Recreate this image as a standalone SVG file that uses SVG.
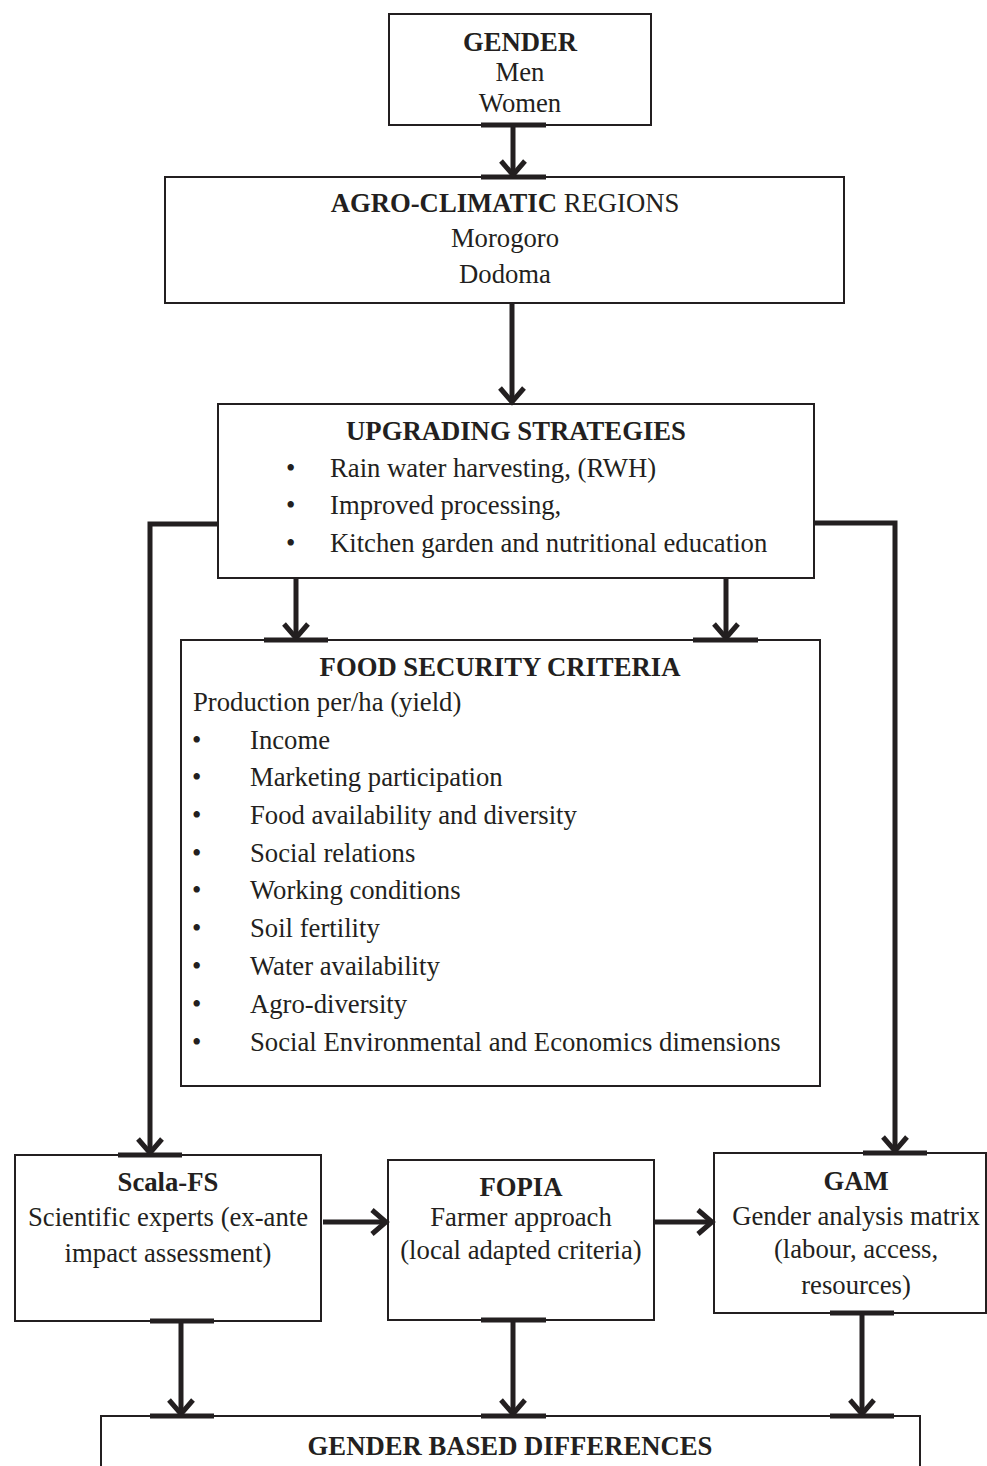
<svg xmlns="http://www.w3.org/2000/svg" width="987" height="1466" viewBox="0 0 987 1466">
<style>
.box{fill:#fff;stroke:#231f20;stroke-width:2}
text{font-family:"Liberation Serif","Times New Roman",serif;font-size:26.7px;fill:#231f20}
.b{font-weight:bold}
.c{text-anchor:middle}
.con{fill:none;stroke:#231f20;stroke-width:5;stroke-linejoin:miter}
.tab{stroke:#231f20;stroke-width:5}
</style>
<defs>
<marker id="ah" markerUnits="userSpaceOnUse" viewBox="-20 -15 25 30" markerWidth="25" markerHeight="30" refX="0" refY="0" orient="auto">
<path d="M-14,-12 L0,0 L-14,12" fill="none" stroke="#231f20" stroke-width="5"/>
</marker>
</defs>
<rect width="987" height="1466" fill="#fff"/>

<g id="gender">
<rect class="box" x="389" y="14" width="262" height="111"/>
<text class="c b" x="520" y="51">GENDER</text>
<text class="c" x="520" y="81">Men</text>
<text class="c" x="520" y="112">Women</text>
</g>

<g id="agro">
<rect class="box" x="165" y="177" width="679" height="126"/>
<text class="c" x="505" y="212"><tspan class="b">AGRO-CLIMATIC</tspan> REGIONS</text>
<text class="c" x="505" y="247">Morogoro</text>
<text class="c" x="505" y="283">Dodoma</text>
</g>

<g id="upgrading">
<rect class="box" x="218" y="404" width="596" height="174"/>
<text class="c b" x="516" y="440">UPGRADING STRATEGIES</text>
<text x="286" y="477">•</text><text x="330" y="477">Rain water harvesting, (RWH)</text>
<text x="286" y="514">•</text><text x="330" y="514">Improved processing,</text>
<text x="286" y="552">•</text><text x="330" y="552">Kitchen garden and nutritional education</text>
</g>

<g id="food">
<rect class="box" x="181" y="640" width="639" height="446"/>
<text class="c b" x="500" y="676">FOOD SECURITY CRITERIA</text>
<text x="193" y="711">Production per/ha (yield)</text>
<text x="192" y="749">•</text><text x="250" y="749">Income</text>
<text x="192" y="786">•</text><text x="250" y="786">Marketing participation</text>
<text x="192" y="824">•</text><text x="250" y="824">Food availability and diversity</text>
<text x="192" y="862">•</text><text x="250" y="862">Social relations</text>
<text x="192" y="899">•</text><text x="250" y="899">Working conditions</text>
<text x="192" y="937">•</text><text x="250" y="937">Soil fertility</text>
<text x="192" y="975">•</text><text x="250" y="975">Water availability</text>
<text x="192" y="1013">•</text><text x="250" y="1013">Agro-diversity</text>
<text x="192" y="1051">•</text><text x="250" y="1051">Social Environmental and Economics dimensions</text>
</g>

<g id="scala">
<rect class="box" x="15" y="1155" width="306" height="166"/>
<text class="c b" x="168" y="1191">Scala-FS</text>
<text class="c" x="168" y="1226">Scientific experts (ex-ante</text>
<text class="c" x="168" y="1262">impact assessment)</text>
</g>

<g id="fopia">
<rect class="box" x="388" y="1160" width="266" height="160"/>
<text class="c b" x="521" y="1196">FOPIA</text>
<text class="c" x="521" y="1226">Farmer approach</text>
<text class="c" x="521" y="1259">(local adapted criteria)</text>
</g>

<g id="gam">
<rect class="box" x="714" y="1153" width="272" height="160"/>
<text class="c b" x="856" y="1190">GAM</text>
<text class="c" x="856" y="1225">Gender analysis matrix</text>
<text class="c" x="856" y="1258">(labour, access,</text>
<text class="c" x="856" y="1294">resources)</text>
</g>

<g id="differences">
<rect class="box" x="101" y="1416" width="819" height="70"/>
<text class="c b" x="510" y="1455">GENDER BASED DIFFERENCES</text>
</g>

<g id="connectors">
<line class="tab" x1="481" y1="125" x2="546" y2="125"/>
<line class="tab" x1="481" y1="177" x2="546" y2="177"/>
<line class="con" x1="513" y1="125" x2="513" y2="175" marker-end="url(#ah)"/>
<line class="con" x1="512" y1="303" x2="512" y2="402" marker-end="url(#ah)"/>
<polyline class="con" points="218,524 150,524 150,1153" marker-end="url(#ah)"/>
<polyline class="con" points="814,523 895,523 895,1151" marker-end="url(#ah)"/>
<line class="con" x1="296" y1="578" x2="296" y2="638" marker-end="url(#ah)"/>
<line class="con" x1="726" y1="578" x2="726" y2="638" marker-end="url(#ah)"/>
<line class="tab" x1="264" y1="640" x2="328" y2="640"/>
<line class="tab" x1="693" y1="640" x2="758" y2="640"/>
<line class="tab" x1="118" y1="1155" x2="182" y2="1155"/>
<line class="tab" x1="863" y1="1153" x2="927" y2="1153"/>
<line class="con" x1="323" y1="1222" x2="386" y2="1222" marker-end="url(#ah)"/>
<line class="con" x1="654" y1="1222" x2="712" y2="1222" marker-end="url(#ah)"/>
<line class="con" x1="181" y1="1321" x2="181" y2="1414" marker-end="url(#ah)"/>
<line class="con" x1="513" y1="1320" x2="513" y2="1414" marker-end="url(#ah)"/>
<line class="con" x1="862" y1="1313" x2="862" y2="1414" marker-end="url(#ah)"/>
<line class="tab" x1="150" y1="1321" x2="214" y2="1321"/>
<line class="tab" x1="481" y1="1320" x2="546" y2="1320"/>
<line class="tab" x1="830" y1="1313" x2="894" y2="1313"/>
<line class="tab" x1="150" y1="1416" x2="214" y2="1416"/>
<line class="tab" x1="481" y1="1416" x2="546" y2="1416"/>
<line class="tab" x1="830" y1="1416" x2="894" y2="1416"/>
</g>
</svg>
